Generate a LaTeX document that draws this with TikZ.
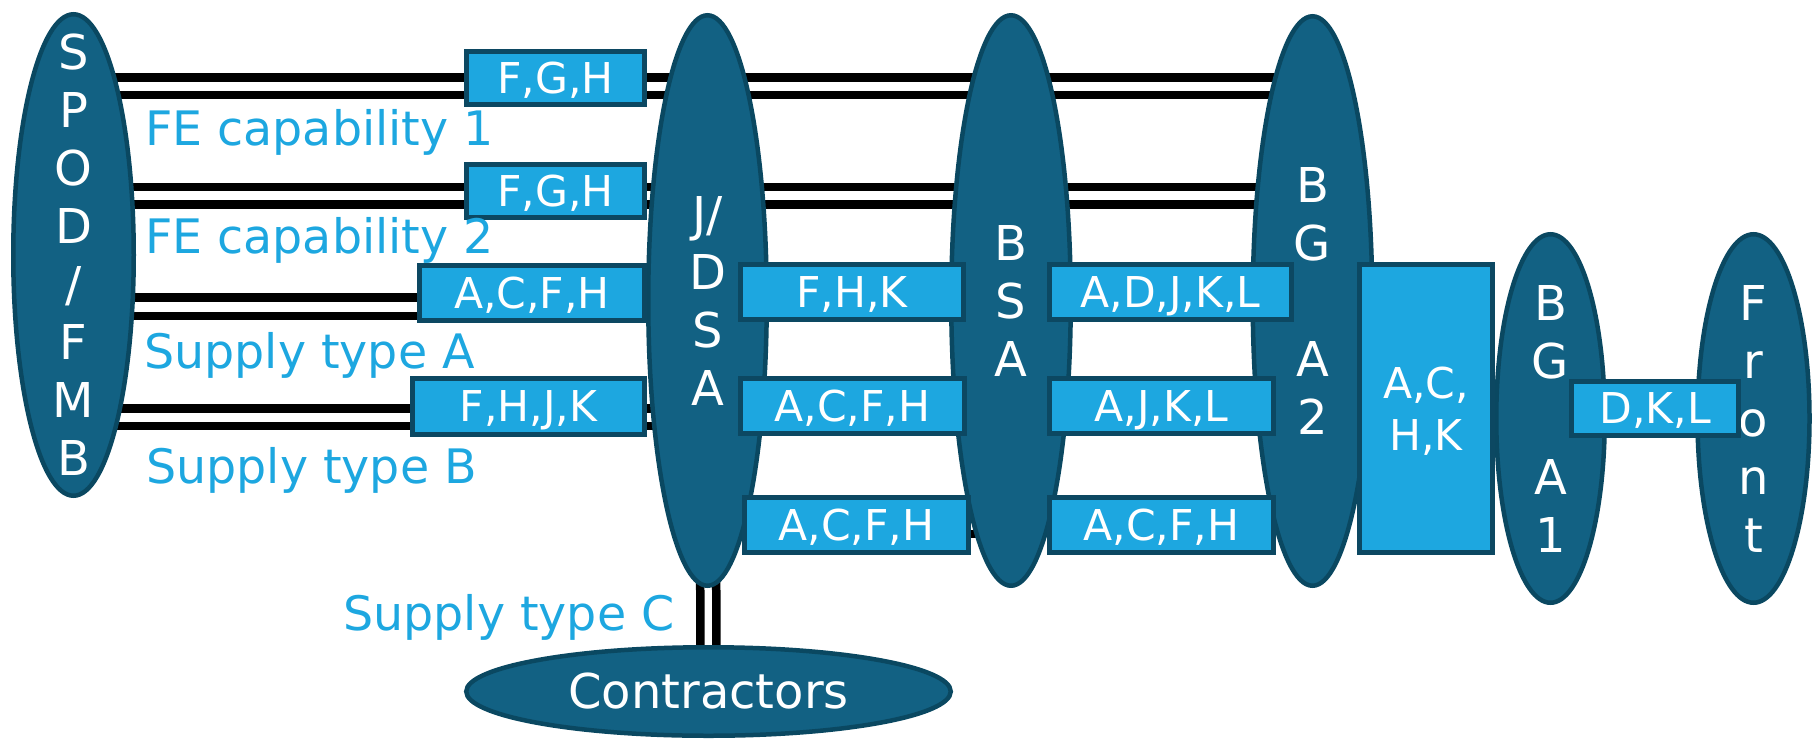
\documentclass[tikz,border=0pt]{standalone}
\usepackage{fontspec}
\setmainfont{DejaVu Sans}
\usetikzlibrary{shapes.geometric,backgrounds}
\definecolor{ellfill}{RGB}{18,97,131}
\definecolor{ellline}{RGB}{10,72,97}
\definecolor{boxfill}{RGB}{29,167,224}
\definecolor{boxline}{RGB}{12,72,98}
\definecolor{lbl}{RGB}{29,167,224}
\begin{document}
\begin{tikzpicture}[x=1pt,y=-1pt,
  ell/.style={ellipse,draw=ellline,fill=ellfill,line width=4.5pt,inner sep=0pt},
  elltext/.style={text=white,align=center,font=\fontsize{48}{58}\selectfont,inner sep=0pt},
  bx/.style={rectangle,draw=boxline,fill=boxfill,line width=5pt,inner sep=0pt,text=white,font=\fontsize{42.5}{52}\selectfont,text depth=0pt},
  lab/.style={text=lbl,font=\fontsize{47.5}{58}\selectfont,inner sep=0pt,anchor=base west},
  wire/.style={line width=8.5pt,black}]
\useasboundingbox (0,0) rectangle (1812,739);

% ellipses
\node[ell,minimum width=120.5pt,minimum height=481.5pt] (spod) at (73.5,255) {};
\node[ell,minimum width=118.5pt,minimum height=570.5pt] (jdsa) at (707.5,300.5) {};
\node[ell,minimum width=119.5pt,minimum height=570.5pt] (bsa) at (1011,300.5) {};
\node[ell,minimum width=119.5pt,minimum height=569.5pt] (bga2) at (1312.5,301) {};
\node[ell,minimum width=108.5pt,minimum height=368.5pt] (bga1) at (1550.5,418.5) {};
\node[ell,minimum width=112pt,minimum height=368.5pt] (front) at (1753.5,418.5) {};
\node[ell,minimum width=484.5pt,minimum height=88.5pt] (contr) at (708.5,691.5) {};

% ellipse texts
\node[elltext] (spodt) at (spod.center) {S\\P\\O\\D\\/\\F\\M\\B};
\node[elltext] (jdsat) at (jdsa.center) {J/\\D\\S\\A};
\node[elltext] (bsat) at (bsa.center) {B\\S\\A};
\node[elltext] (bga2t) at (bga2.center) {B\\G\\\mbox{}\\A\\2};
\node[elltext] (bga1t) at (bga1.center) {B\\G\\\mbox{}\\A\\1};
\node[elltext] (frontt) at (front.center) {F\\r\\o\\n\\t};
\node[elltext] (contrt) at (contr.center) {Contractors};

% wires
\begin{scope}[on background layer]
\draw[wire] (spod.center |- 0,77.5) -- (bga2.center |- 0,77.5);
\draw[wire] (spod.center |- 0,95) -- (bga2.center |- 0,95);
\draw[wire] (spod.center |- 0,187) -- (bga2.center |- 0,187);
\draw[wire] (spod.center |- 0,204.5) -- (bga2.center |- 0,204.5);
\draw[wire] (spod.center |- 0,297.5) -- (jdsa.center |- 0,297.5);
\draw[wire] (spod.center |- 0,316) -- (jdsa.center |- 0,316);
\draw[wire] (spod.center |- 0,408.5) -- (jdsa.center |- 0,408.5);
\draw[wire] (spod.center |- 0,426) -- (jdsa.center |- 0,426);
\draw[wire] (jdsa.center |- 0,516) -- (bsa.center |- 0,516);
\draw[wire] (jdsa.center |- 0,534) -- (bsa.center |- 0,534);
\draw[wire] ([xshift=-8pt]jdsa.center) -- ([xshift=-8pt]contr.center);
\draw[wire] ([xshift=8pt]jdsa.center) -- ([xshift=8pt]contr.center);
\end{scope}

% boxes
\node[bx,minimum width=178pt,minimum height=53pt] (b1) at (555.5,78) {F,G,H};
\node[bx,minimum width=178pt,minimum height=53pt] (b2) at (555.5,191) {F,G,H};
\node[bx,minimum width=225pt,minimum height=55pt] (b3) at (532,293) {A,C,F,H};
\node[bx,minimum width=232pt,minimum height=56pt] (b4) at (528.5,406.5) {F,H,J,K};
\node[bx,minimum width=223pt,minimum height=55pt] (b5) at (852,292) {F,H,K};
\node[bx,minimum width=224pt,minimum height=55pt] (b6) at (852.5,406) {A,C,F,H};
\node[bx,minimum width=224pt,minimum height=55pt] (b7) at (856.5,525) {A,C,F,H};
\node[bx,minimum width=242pt,minimum height=55pt] (b8) at (1170.5,292) {A,D,J,K,L};
\node[bx,minimum width=224pt,minimum height=55pt] (b9) at (1161.5,406) {A,J,K,L};
\node[bx,minimum width=224pt,minimum height=55pt] (b10) at (1161.5,525) {A,C,F,H};
\node[bx,minimum width=133pt,minimum height=288pt,align=center] (b11) at (1426,408.5) {A,C,\\H,K};
\node[bx,minimum width=167pt,minimum height=54pt] (b12) at (1655,408.5) {D,K,L};

% labels
\node[lab] (l1) at (145,145) {FE capability 1};
\node[lab] (l2) at (145,253) {FE capability 2};
\node[lab] (l3) at (144,368) {Supply type A};
\node[lab] (l4) at (146,483) {Supply type B};
\node[lab] (l5) at (343,630) {Supply type C};
\end{tikzpicture}
\end{document}
